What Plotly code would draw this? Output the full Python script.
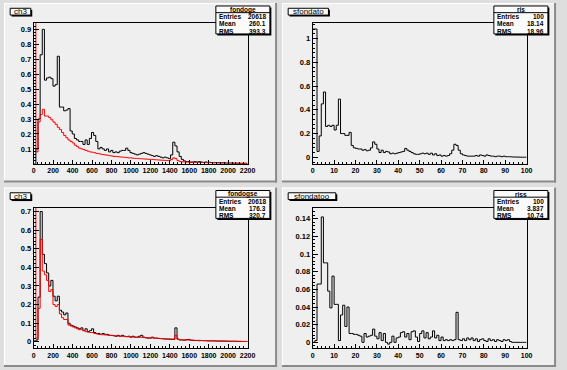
import numpy as np
import plotly.graph_objects as go

W, H = 567, 370

# ---------------- data ----------------
ch3_bin_width = 22
ratio_bin_width = 1

tl_black = [0.0, 0.1, 0.3, 0.73, 0.9, 0.56, 0.575, 0.58, 0.57, 0.52,
            0.53, 0.72, 0.38, 0.38, 0.355, 0.36, 0.37, 0.22, 0.2, 0.17,
            0.16, 0.15, 0.15, 0.13, 0.16, 0.13, 0.17, 0.21, 0.19, 0.15,
            0.1, 0.11, 0.1, 0.09, 0.1, 0.08, 0.09, 0.075, 0.08, 0.075,
            0.085, 0.09, 0.09, 0.105, 0.09, 0.075, 0.07, 0.065, 0.06, 0.065,
            0.07, 0.075, 0.07, 0.065, 0.06, 0.055, 0.05, 0.055, 0.05, 0.045,
            0.04, 0.045, 0.04, 0.035, 0.06, 0.145, 0.12, 0.08, 0.05, 0.03,
            0.02, 0.015, 0.015, 0.012, 0.012, 0.015, 0.012, 0.015, 0.012, 0.01,
            0.012, 0.01, 0.01, 0.008, 0.008, 0.008, 0.007, 0.006, 0.007, 0.006,
            0.005, 0.005, 0.005, 0.004, 0.004, 0.004, 0.003, 0.003, 0.003, 0.003]

tl_red = [2.0, 0.08, 0.28, 0.33, 0.365, 0.32, 0.32, 0.31, 0.295, 0.28,
          0.265, 0.245, 0.23, 0.21, 0.19, 0.175, 0.16, 0.15, 0.14, 0.125,
          0.115, 0.105, 0.1, 0.095, 0.09, 0.085, 0.08, 0.078, 0.075, 0.07,
          0.068, 0.065, 0.062, 0.06, 0.058, 0.055, 0.053, 0.05, 0.05, 0.048,
          0.046, 0.045, 0.044, 0.042, 0.04, 0.04, 0.038, 0.037, 0.036, 0.035,
          0.034, 0.033, 0.032, 0.031, 0.03, 0.03, 0.028, 0.027, 0.026, 0.025,
          0.024, 0.023, 0.022, 0.022, 0.03, 0.04, 0.035, 0.022, 0.016, 0.014,
          0.013, 0.012, 0.012, 0.011, 0.011, 0.01, 0.01, 0.01, 0.009, 0.009,
          0.009, 0.008, 0.008, 0.008, 0.007, 0.007, 0.007, 0.006, 0.006, 0.006,
          0.005, 0.005, 0.005, 0.005, 0.004, 0.004, 0.004, 0.004, 0.004, 0.004]

tr_diff = [1.08, 1.08, 0.05, 0.18, 0.45, 0.55, 0.26, 0.27, 0.26, 0.27,
           0.23, 0.27, 0.49, 0.2, 0.2, 0.185, 0.185, 0.21, 0.1, 0.08,
           0.075, 0.07, 0.07, 0.06, 0.065, 0.055, 0.06, 0.08, 0.13, 0.11,
           0.07, 0.04, 0.06, 0.04, 0.05, 0.045, 0.03, 0.035, 0.03, 0.035,
           0.04, 0.045, 0.05, 0.075, 0.06, 0.05, 0.04, 0.03, 0.025, 0.025,
           0.03, 0.035, 0.03, 0.035, 0.025, 0.035, 0.02, 0.03, 0.015, 0.02,
           0.01, 0.015, 0.01, 0.015, 0.03, 0.06, 0.11, 0.1, 0.06, 0.03,
           0.02, 0.015, 0.01, 0.01, 0.01, 0.01, 0.015, 0.01, 0.02, 0.015,
           0.01, 0.02, 0.015, 0.01, 0.01, 0.005, 0.01, 0.01, 0.005, 0.01,
           0.005, 0.005, 0.005, 0.003, 0.003, 0.002, 0.002, 0.001, 0.001, 0.001]

bl_black = [0.005, 0.01, 0.24, 0.7, 0.47, 0.42, 0.37, 0.3, 0.33, 0.245,
            0.22, 0.245, 0.17, 0.16, 0.145, 0.155, 0.1, 0.09, 0.085, 0.08,
            0.075, 0.07, 0.075, 0.06, 0.07, 0.055, 0.06, 0.07, 0.05, 0.045,
            0.045, 0.04, 0.045, 0.04, 0.04, 0.035, 0.035, 0.033, 0.03, 0.035,
            0.03, 0.035, 0.03, 0.028, 0.03, 0.025, 0.03, 0.025, 0.025, 0.03,
            0.035, 0.025, 0.022, 0.02, 0.02, 0.025, 0.02, 0.02, 0.018, 0.017,
            0.016, 0.015, 0.015, 0.014, 0.013, 0.013, 0.075, 0.015, 0.01, 0.01,
            0.009, 0.012, 0.013, 0.009, 0.008, 0.007, 0.007, 0.006, 0.007, 0.006,
            0.006, 0.005, 0.005, 0.005, 0.005, 0.004, 0.004, 0.004, 0.004, 0.004,
            0.003, 0.003, 0.003, 0.003, 0.003, 0.002, 0.002, 0.002, 0.002, 0.002]

bl_red = [2.0, 0.02, 0.18, 0.55, 0.38, 0.36, 0.33, 0.27, 0.28, 0.2,
          0.19, 0.2, 0.15, 0.13, 0.12, 0.12, 0.09, 0.085, 0.08, 0.075,
          0.07, 0.065, 0.065, 0.06, 0.055, 0.052, 0.05, 0.05, 0.045, 0.043,
          0.04, 0.039, 0.038, 0.037, 0.036, 0.035, 0.034, 0.033, 0.032, 0.031,
          0.03, 0.03, 0.029, 0.028, 0.027, 0.027, 0.026, 0.025, 0.025, 0.024,
          0.024, 0.023, 0.022, 0.022, 0.021, 0.021, 0.02, 0.02, 0.019, 0.018,
          0.018, 0.017, 0.016, 0.016, 0.015, 0.015, 0.035, 0.013, 0.012, 0.011,
          0.011, 0.01, 0.01, 0.009, 0.009, 0.008, 0.008, 0.008, 0.007, 0.007,
          0.007, 0.006, 0.006, 0.006, 0.005, 0.005, 0.005, 0.005, 0.004, 0.004,
          0.004, 0.004, 0.003, 0.003, 0.003, 0.003, 0.003, 0.002, 0.002, 0.002]

br_diff = [0.0, 0.002, 0.066, 0.066, 0.142, 0.09, 0.09, 0.058, 0.039, 0.075,
           0.043, 0.043, 0.002, 0.031, 0.042, 0.018, 0.04, 0.01, 0.01, 0.009,
           0.009, 0.008, 0.007, 0.0, 0.01, 0.006, 0.007, 0.008, 0.015, 0.007,
           0.004, 0.011, 0.002, 0.01, 0.0, -0.002, 0.0, 0.007, 0.0, 0.005,
           0.006, 0.011, 0.012, 0.006, 0.01, 0.003, 0.012, 0.013, 0.006, 0.001,
           0.01, 0.013, 0.005, 0.011, 0.004, 0.006, 0.013, 0.005, 0.008, 0.002,
           0.006, 0.002, 0.003, 0.002, 0.003, 0.002, 0.003, 0.034, 0.003, 0.002,
           0.004, 0.002, 0.005, 0.003, 0.005, 0.002, 0.004, 0.001, 0.003, 0.004,
           0.002, 0.001, 0.004, 0.002, 0.003, 0.001, 0.003, 0.002, 0.001, 0.003,
           0.002, 0.003, 0.001, 0.0, 0.0, 0.0, 0.0, 0.0, 0.0, 0.0]

ch3_x_ticks = list(range(0, 2201, 200))
ratio_x_ticks = list(range(0, 101, 10))
tl_y_ticks = [0.1, 0.2, 0.3, 0.4, 0.5, 0.6, 0.7, 0.8, 0.9]
tr_y_ticks = [0, 0.2, 0.4, 0.6, 0.8, 1]
bl_y_ticks = [0, 0.1, 0.2, 0.3, 0.4, 0.5, 0.6, 0.7]
br_y_ticks = [0, 0.02, 0.04, 0.06, 0.08, 0.1, 0.12, 0.14]

pad_titles = ["ch3", "sfondato", "ch3", "sfondatoo"]
stat_names = ["fondoge", "ris", "fondogse", "riss"]
stat_entries = ["20618", "100", "20618", "100"]
stat_means = ["260.1", "18.14", "176.3", "3.837"]
stat_rms = ["393.3", "18.96", "320.7", "10.74"]

# ---------------- helpers ----------------
def fx(x):
    return x / W

def fy(y):
    return 1 - y / H

def steps(values, width):
    edges = np.arange(len(values) + 1) * width
    ys = list(values) + [values[-1]]
    return edges, ys

def lab(v):
    return "%g" % v

FONT = "Liberation Sans"
PAD = "#efefef"

fig = go.Figure()

pads = [(2, 2, 280, 182), (285, 2, 564, 182), (2, 187, 280, 367), (285, 187, 564, 367)]
frames = [(32.3, 21.7, 250, 163.3), (316.3, 21.7, 534, 163.3),
          (32.3, 207.3, 250, 348.3), (316.3, 207.3, 534, 348.3)]
yranges = [[0, 0.945], [-0.055, 1.134], [-0.035, 0.72], [-0.0068, 0.1524]]
xranges = [[0, 2200], [0, 100], [0, 2200], [0, 100]]
yticks = [tl_y_ticks, tr_y_ticks, bl_y_ticks, br_y_ticks]
yminor = [0.02, 0.04, 0.02, 0.004]
xticks = [ch3_x_ticks, ratio_x_ticks, ch3_x_ticks, ratio_x_ticks]
xminor = [40, 2, 40, 2]

series = [
    [(tl_black, ch3_bin_width, "black"), (tl_red, ch3_bin_width, "red")],
    [(tr_diff, ratio_bin_width, "black")],
    [(bl_black, ch3_bin_width, "black"), (bl_red, ch3_bin_width, "red")],
    [(br_diff, ratio_bin_width, "black")],
]

shapes = []
annotations = []

for k in range(4):
    ax = "" if k == 0 else str(k + 1)
    for vals, wdt, col in series[k]:
        xs, ys = steps(vals, wdt)
        fig.add_trace(go.Scatter(x=xs, y=ys, mode="lines", line=dict(color=col, width=1, shape="hv"),
                                 xaxis="x" + ax, yaxis="y" + ax, showlegend=False, hoverinfo="skip"))
    fx0, fy0, fx1, fy1 = frames[k]
    fig.layout["xaxis" + ax] = dict(
        domain=[fx(fx0), fx(fx1)], range=xranges[k], anchor="y" + ax,
        showline=True, linecolor="black", linewidth=1, mirror=True,
        showgrid=False, zeroline=False, ticks="inside", ticklen=4, tickwidth=1, tickcolor="black",
        tickmode="array", tickvals=xticks[k], ticktext=[lab(v) for v in xticks[k]], tickangle=0,
        tickfont=dict(family=FONT, size=7, color="black", weight="bold"),
        minor=dict(ticks="inside", ticklen=2, tickcolor="black", tickmode="linear", tick0=0, dtick=xminor[k], showgrid=False),
        fixedrange=True,
    )
    fig.layout["yaxis" + ax] = dict(
        domain=[fy(fy1), fy(fy0)], range=yranges[k], anchor="x" + ax,
        showline=True, linecolor="black", linewidth=1, mirror=True,
        showgrid=False, zeroline=False, ticks="inside", ticklen=5, tickwidth=1, tickcolor="black",
        tickmode="array", tickvals=yticks[k], ticktext=[lab(v) for v in yticks[k]],
        tickfont=dict(family=FONT, size=7.5, color="black", weight="bold"),
        minor=dict(ticks="inside", ticklen=2.5, tickcolor="black", tickmode="linear", tick0=0, dtick=yminor[k], showgrid=False),
        fixedrange=True,
    )

    # pad face + bevel
    x0, y0, x1, y1 = pads[k]
    shapes.append(dict(type="rect", xref="paper", yref="paper", x0=fx(x0), x1=fx(x1), y0=fy(y1), y1=fy(y0),
                       fillcolor=PAD, line=dict(width=0), layer="below"))
    shapes.append(dict(type="line", xref="paper", yref="paper", x0=fx(x0), x1=fx(x1), y0=fy(y0 + 0.5), y1=fy(y0 + 0.5),
                       line=dict(color="white", width=1), layer="below"))
    shapes.append(dict(type="line", xref="paper", yref="paper", x0=fx(x0 + 0.5), x1=fx(x0 + 0.5), y0=fy(y0), y1=fy(y1),
                       line=dict(color="white", width=1), layer="below"))
    shapes.append(dict(type="line", xref="paper", yref="paper", x0=fx(x0), x1=fx(x1), y0=fy(y1 - 1), y1=fy(y1 - 1),
                       line=dict(color="#8a8a8a", width=2), layer="below"))
    shapes.append(dict(type="line", xref="paper", yref="paper", x0=fx(x1 - 1), x1=fx(x1 - 1), y0=fy(y0), y1=fy(y1),
                       line=dict(color="#8a8a8a", width=2), layer="below"))

    # title box
    tbx0 = x0 + 6.3
    tby0 = y0 + 5.3
    tw = 21 if k in (0, 2) else (41 if k == 1 else 48.5)
    th = 6.8
    shapes.append(dict(type="rect", xref="paper", yref="paper", x0=fx(tbx0 + 1.5), x1=fx(tbx0 + tw + 1.5),
                       y0=fy(tby0 + th + 1.5), y1=fy(tby0 + 1.5), fillcolor="black", line=dict(width=0)))
    shapes.append(dict(type="rect", xref="paper", yref="paper", x0=fx(tbx0), x1=fx(tbx0 + tw),
                       y0=fy(tby0 + th), y1=fy(tby0), fillcolor="#fbfbfb", line=dict(color="black", width=1)))
    annotations.append(dict(xref="paper", yref="paper", x=fx(tbx0 + tw / 2), y=fy(tby0 + th / 2),
                            text=pad_titles[k], showarrow=False, xanchor="center", yanchor="middle",
                            font=dict(family=FONT, size=8, color="black")))

    # stats box
    sx0 = x0 + 215.7
    sx1 = sx0 + 55
    sy0 = y0 + 3
    sy1 = sy0 + 28
    shapes.append(dict(type="rect", xref="paper", yref="paper", x0=fx(sx0 + 1.5), x1=fx(sx1 + 1.5),
                       y0=fy(sy1 + 1.5), y1=fy(sy0 + 1.5), fillcolor="black", line=dict(width=0)))
    shapes.append(dict(type="rect", xref="paper", yref="paper", x0=fx(sx0), x1=fx(sx1),
                       y0=fy(sy1), y1=fy(sy0), fillcolor="#fbfbfb", line=dict(color="black", width=1)))
    shapes.append(dict(type="line", xref="paper", yref="paper", x0=fx(sx0), x1=fx(sx1),
                       y0=fy(sy0 + 6.7), y1=fy(sy0 + 6.7), line=dict(color="black", width=1)))
    annotations.append(dict(xref="paper", yref="paper", x=fx((sx0 + sx1) / 2), y=fy(sy0 + 3.6),
                            text="<b>%s</b>" % stat_names[k], showarrow=False, xanchor="center", yanchor="middle",
                            font=dict(family=FONT, size=6.5, color="black")))
    rows = [("Entries", stat_entries[k]), ("Mean", stat_means[k]), ("RMS", stat_rms[k])]
    for r, (name, val) in enumerate(rows):
        yy = sy0 + 10.7 + r * 7.2
        annotations.append(dict(xref="paper", yref="paper", x=fx(sx0 + 1.5), y=fy(yy),
                                text="<b>%s</b>" % name, showarrow=False, xanchor="left", yanchor="middle",
                                font=dict(family=FONT, size=6.5, color="black")))
        annotations.append(dict(xref="paper", yref="paper", x=fx(sx1 - 1.5), y=fy(yy),
                                text="<b>%s</b>" % val, showarrow=False, xanchor="right", yanchor="middle",
                                font=dict(family=FONT, size=6.5, color="black")))

fig.update_layout(
    width=W, height=H, margin=dict(l=0, r=0, t=0, b=0),
    paper_bgcolor="#dedede", plot_bgcolor="rgba(0,0,0,0)",
    shapes=shapes, annotations=annotations, showlegend=False,
)

fig.write_html("out.html", config={"displayModeBar": False},
               post_script="document.body.style.margin='0';document.body.style.overflow='hidden';")
